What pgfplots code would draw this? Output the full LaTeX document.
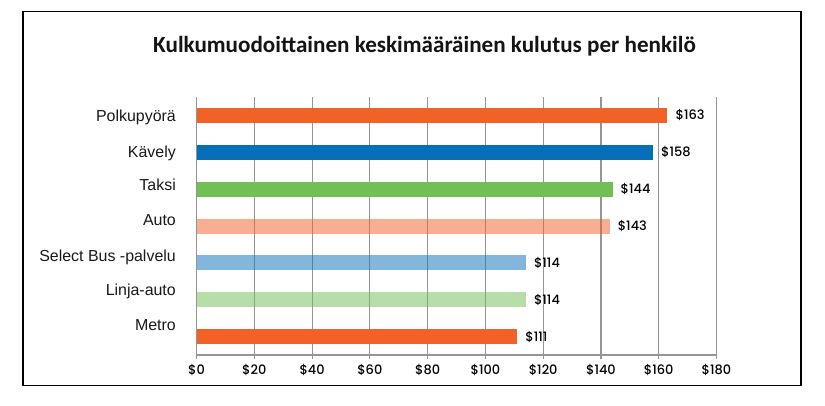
\documentclass[border=0pt]{standalone}
\usepackage{pgfplots}
\pgfplotsset{compat=1.18}
\usepackage{fontspec}
\setmainfont{Liberation Sans}
\newfontfamily\titlefont{Carlito}
\newfontfamily\numfont{Poppins Medium}
\definecolor{corange}{HTML}{F26125}
\definecolor{cblue}{HTML}{066FB7}
\definecolor{cgreen}{HTML}{71BF55}
\definecolor{gridgray}{HTML}{959595}
\begin{document}
\begin{tikzpicture}[x=1bp,y=1bp]
\path[fill=white] (0bp,0bp) rectangle (825bp,406bp);
\draw[line width=1.5bp] (23bp,394.5bp) rectangle (801bp,20.5bp);
\node[anchor=base, font=\titlefont\bfseries\fontsize{23.2}{28}\selectfont, text=black!92] at (424.5bp,353.7bp) {Kulkumuodoittainen keskimääräinen kulutus per henkilö};
\begin{axis}[
  at={(196.5bp,51bp)}, anchor=south west,
  scale only axis, width=520bp, height=258bp,
  xbar, bar width=15bp,
  xmin=0, xmax=180, ymin=-0.5, ymax=6.5, y dir=reverse,
  axis lines*=left,
  axis line style={gridgray, line width=1.1bp},
  tick align=outside, major tick length=4bp,
  /pgf/number format/assume math mode=true,
  xtick={0,20,...,180},
  xticklabel={\$\pgfmathprintnumber{\tick}},
  xticklabel style={font=\numfont\fontsize{13}{15}\selectfont, text=black, yshift=-1.5bp},
  xtick style={gridgray, line width=1.1bp},
  xmajorgrids, grid style={gridgray, line width=1.1bp},
  ytick={0.170,1.147,2.042,2.992,3.968,4.899,5.840},
  yticklabels={Polkupyörä,Kävely,Taksi,Auto,Select Bus -palvelu,Linja-auto,Metro},
  ytick style={draw=none},
  yticklabel style={anchor=base east, inner sep=0pt, xshift=-16.5bp, font=\fontsize{16}{18}\selectfont, text=black!90},
  extra y ticks={0.5,1.5,2.5,3.5,4.5,5.5},
  extra y tick labels={},
  extra y tick style={grid=none, tick style={draw=gridgray, line width=1.1bp}},
  nodes near coords={\$\pgfmathprintnumber{\pgfplotspointmeta}},
  every node near coord/.append style={anchor=west, inner sep=0pt, xshift=8bp, font=\numfont\fontsize{13}{15}\selectfont, text=black, fill opacity=1, text opacity=1},
  every axis plot/.append style={draw=none, bar shift=0pt},
]
\addplot[fill=corange] coordinates {(163,0)};
\addplot[fill=cblue] coordinates {(158,1)};
\addplot[fill=cgreen] coordinates {(144,2)};
\addplot[fill=corange, fill opacity=0.5] coordinates {(143,3)};
\addplot[fill=cblue, fill opacity=0.5] coordinates {(114,4)};
\addplot[fill=cgreen, fill opacity=0.5] coordinates {(114,5)};
\addplot[fill=corange] coordinates {(111,6)};
\end{axis}
\end{tikzpicture}
\end{document}
